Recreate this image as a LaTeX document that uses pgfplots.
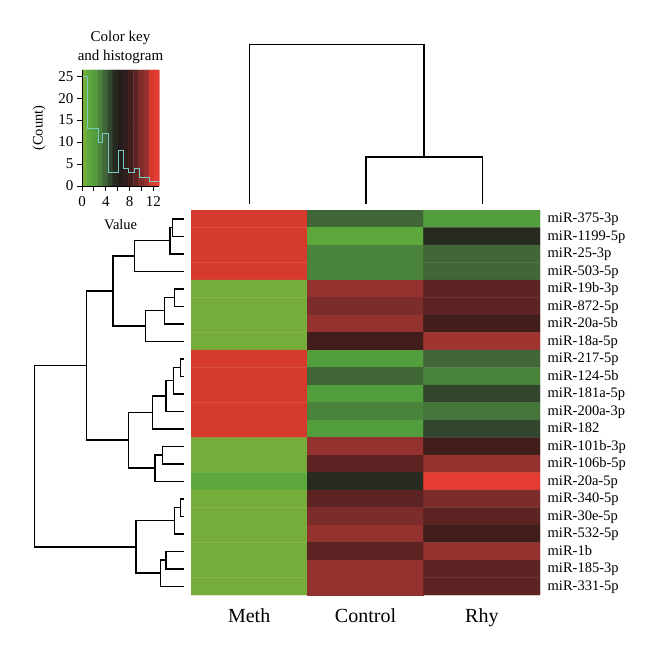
\documentclass[border=0pt]{standalone}
\usepackage{fontspec}
\setmainfont{Liberation Serif}
\usepackage{pgfplots}
\pgfplotsset{compat=1.18}

% heat colours: green - black - red (stops at value = k*13/14)
\pgfplotsset{
  colormap={heat}{
    rgb255(0pt)=(118,172,58) rgb255(1pt)=(92,168,60) rgb255(2pt)=(82,158,60)
    rgb255(3pt)=(74,132,60) rgb255(4pt)=(65,102,55) rgb255(5pt)=(50,70,45)
    rgb255(6pt)=(38,42,32) rgb255(7pt)=(35,30,27) rgb255(8pt)=(50,30,28)
    rgb255(9pt)=(65,30,28) rgb255(10pt)=(92,35,35) rgb255(11pt)=(124,44,42)
    rgb255(12pt)=(148,50,48) rgb255(13pt)=(213,58,45) rgb255(14pt)=(228,60,50)
  },
  colormap name=heat,
  point meta min=0, point meta max=13,
  dendro/.style={black, line width=1.5bp, mark=none, solid, sharp plot},
}
\definecolor{histc}{RGB}{120,205,195}

\begin{document}
\begin{tikzpicture}
\useasboundingbox (0,0) rectangle (660bp,658bp);

% dendrograms, drawn in picture pixel coordinates
\begin{axis}[
    at={(0,0)}, anchor=south west, scale only axis,
    width=660bp, height=658bp,
    xmin=0, xmax=660, ymin=0, ymax=658, y dir=reverse,
    hide axis, clip=false,
]
% rows
\addplot[dendro] coordinates {(184,218.75)(172.7,218.75)(172.7,236.25)(184,236.25)};
\addplot[dendro] coordinates {(172.7,227.5)(170,227.5)(170,253.75)(184,253.75)};
\addplot[dendro] coordinates {(170,240.6)(134.3,240.6)(134.3,271.25)(184,271.25)};
\addplot[dendro] coordinates {(184,288.75)(174.3,288.75)(174.3,306.25)(184,306.25)};
\addplot[dendro] coordinates {(174.3,297.5)(164.7,297.5)(164.7,323.75)(184,323.75)};
\addplot[dendro] coordinates {(164.7,310.6)(145.7,310.6)(145.7,341.25)(184,341.25)};
\addplot[dendro] coordinates {(134.3,255.9)(113,255.9)(113,325.9)(145.7,325.9)};
\addplot[dendro] coordinates {(184,358.75)(180.3,358.75)(180.3,376.25)(184,376.25)};
\addplot[dendro] coordinates {(180.3,367.5)(173.7,367.5)(173.7,393.75)(184,393.75)};
\addplot[dendro] coordinates {(173.7,380.6)(166,380.6)(166,411.25)(184,411.25)};
\addplot[dendro] coordinates {(166,395.9)(152.7,395.9)(152.7,428.75)(184,428.75)};
\addplot[dendro] coordinates {(184,446.25)(162.7,446.25)(162.7,463.75)(184,463.75)};
\addplot[dendro] coordinates {(162.7,455)(155,455)(155,481.25)(184,481.25)};
\addplot[dendro] coordinates {(152.7,412.3)(128.7,412.3)(128.7,468.1)(155,468.1)};
\addplot[dendro] coordinates {(113,290.9)(86.7,290.9)(86.7,440.2)(128.7,440.2)};
\addplot[dendro] coordinates {(184,498.75)(180.3,498.75)(180.3,516.25)(184,516.25)};
\addplot[dendro] coordinates {(180.3,507.5)(174.3,507.5)(174.3,533.75)(184,533.75)};
\addplot[dendro] coordinates {(184,551.25)(166,551.25)(166,568.75)(184,568.75)};
\addplot[dendro] coordinates {(166,560)(160.3,560)(160.3,586.25)(184,586.25)};
\addplot[dendro] coordinates {(174.3,520.6)(136,520.6)(136,573.1)(160.3,573.1)};
\addplot[dendro] coordinates {(86.7,365.6)(34.7,365.6)(34.7,546.9)(136,546.9)};
% columns
\addplot[dendro] coordinates {(365.75,204)(365.75,157)(482.25,157)(482.25,204)};
\addplot[dendro] coordinates {(249.25,204)(249.25,44.3)(424,44.3)(424,157)};

\node[align=center, font=\fontsize{15bp}{18.4bp}\selectfont] at (axis cs:120.5,47.5)
  {Color key\\and histogram};
\end{axis}

% heatmap
\begin{axis}[
    at={(191bp,63bp)}, anchor=south west, scale only axis,
    width=349bp, height=385bp,
    xmin=0, xmax=3, ymin=0, ymax=22, y dir=reverse,
    axis line style={draw=none}, tick style={draw=none},
    xtick={0.5,1.5,2.5}, xticklabels={Meth,Control,Rhy},
    xticklabel style={font=\fontsize{20bp}{24bp}\selectfont, inner sep=0pt, anchor=north, yshift=-13bp},
    ytick={0.5,1.5,...,21.5},
    yticklabels={miR-375-3p,miR-1199-5p,miR-25-3p,miR-503-5p,miR-19b-3p,miR-872-5p,
      miR-20a-5b,miR-18a-5p,miR-217-5p,miR-124-5b,miR-181a-5p,miR-200a-3p,miR-182,
      miR-101b-3p,miR-106b-5p,miR-20a-5p,miR-340-5p,miR-30e-5p,miR-532-5p,miR-1b,
      miR-185-3p,miR-331-5p},
    yticklabel pos=right,
    yticklabel style={font=\fontsize{14.5bp}{17bp}\selectfont, inner sep=0pt, anchor=base west, xshift=7.5bp, yshift=-4bp},
]
\addplot[matrix plot*, mesh/cols=3, point meta=explicit] table[meta=v] {
x y v
0.5 0.5 12.07
1.5 0.5 3.71
2.5 0.5 1.86
0.5 1.5 12.07
1.5 1.5 0.93
2.5 1.5 5.57
0.5 2.5 12.07
1.5 2.5 2.79
2.5 2.5 3.71
0.5 3.5 12.07
1.5 3.5 2.79
2.5 3.5 3.71
0.5 4.5 0
1.5 4.5 11.14
2.5 4.5 9.29
0.5 5.5 0
1.5 5.5 10.21
2.5 5.5 9.29
0.5 6.5 0
1.5 6.5 11.14
2.5 6.5 8.36
0.5 7.5 0
1.5 7.5 8.36
2.5 7.5 11.33
0.5 8.5 12.07
1.5 8.5 1.86
2.5 8.5 3.71
0.5 9.5 12.07
1.5 9.5 3.71
2.5 9.5 2.79
0.5 10.5 12.07
1.5 10.5 1.86
2.5 10.5 4.64
0.5 11.5 12.07
1.5 11.5 2.79
2.5 11.5 3.25
0.5 12.5 12.07
1.5 12.5 1.86
2.5 12.5 4.64
0.5 13.5 0
1.5 13.5 11.14
2.5 13.5 8.36
0.5 14.5 0
1.5 14.5 9.29
2.5 14.5 11.14
0.5 15.5 0.93
1.5 15.5 5.57
2.5 15.5 13
0.5 16.5 0
1.5 16.5 9.29
2.5 16.5 10.21
0.5 17.5 0
1.5 17.5 10.21
2.5 17.5 9.29
0.5 18.5 0
1.5 18.5 11.14
2.5 18.5 8.36
0.5 19.5 0
1.5 19.5 9.29
2.5 19.5 11.14
0.5 20.5 0
1.5 20.5 11.14
2.5 20.5 9.29
0.5 21.5 0
1.5 21.5 11.14
2.5 21.5 9.29
};
\end{axis}

% colour key with histogram
\begin{axis}[
    at={(82bp,472bp)}, anchor=south west, scale only axis,
    width=77.3bp, height=116bp,
    xmin=0, xmax=13, ymin=0, ymax=26.4,
    axis lines*=left, axis on top,
    axis line style={line width=0.8bp},
    tick align=outside, tick style={black, line width=0.8bp},
    major tick length=5bp, minor tick length=5bp,
    xtick={0,4,8,12}, minor xtick={2,6,10},
    ytick={0,5,...,25},
    ticklabel style={font=\fontsize{15bp}{17bp}\selectfont, /pgf/number format/assume math mode=true},
    xticklabel style={yshift=-2bp},
    xlabel={Value}, ylabel={(Count)},
    label style={font=\fontsize{14.5bp}{17bp}\selectfont},
    xlabel style={yshift=-6bp},
    ylabel style={yshift=6bp},
]
\addplot[matrix plot*, mesh/cols=15, point meta=explicit] table[meta=v] {
x y v
0.4333 6.6 0
1.3 6.6 0.929
2.1667 6.6 1.857
3.0333 6.6 2.786
3.9 6.6 3.714
4.7667 6.6 4.643
5.6333 6.6 5.571
6.5 6.6 6.5
7.3667 6.6 7.429
8.2333 6.6 8.357
9.1 6.6 9.286
9.9667 6.6 10.214
10.8333 6.6 11.143
11.7 6.6 12.071
12.5667 6.6 13
0.4333 19.8 0
1.3 19.8 0.929
2.1667 19.8 1.857
3.0333 19.8 2.786
3.9 19.8 3.714
4.7667 19.8 4.643
5.6333 19.8 5.571
6.5 19.8 6.5
7.3667 19.8 7.429
8.2333 19.8 8.357
9.1 19.8 9.286
9.9667 19.8 10.214
10.8333 19.8 11.143
11.7 19.8 12.071
12.5667 19.8 13
};
\addplot[const plot, histc, line width=1bp, mark=none] coordinates {
(0,25) (0.87,13) (2.7,10) (3.5,12) (4.4,3) (6.2,8) (7.0,4) (7.9,3) (8.9,4) (9.7,2) (11.3,1) (13,1)
};
\end{axis}
\end{tikzpicture}
\end{document}
